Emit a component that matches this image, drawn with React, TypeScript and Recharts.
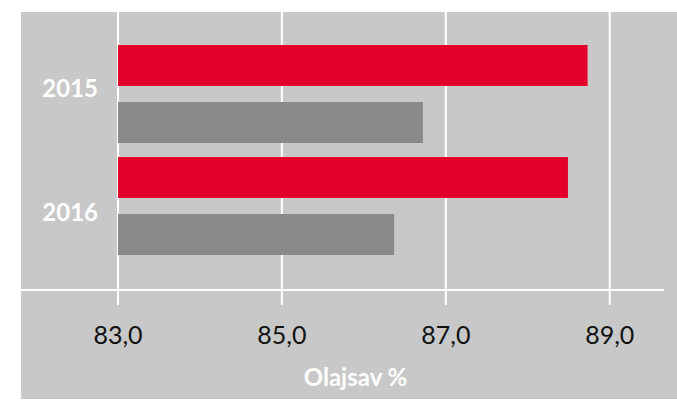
import React from 'react';
import { BarChart, Bar, XAxis, YAxis, CartesianGrid } from 'recharts';

// values
const years = ['2015', '2016'];
const redValues = [88.73, 88.49];
const greyValues = [86.72, 86.37];
const xTicks = [83, 85, 87, 89];

const data = years.map((year, i) => ({
  year,
  red: redValues[i],
  grey: greyValues[i],
}));

const FONT = 'Lato, "Open Sans", sans-serif';

// small nudge so the year labels sit where the reference has them
const labelShift = [-5, 7];

const YearTick = (props: any) => {
  const { x, y, payload, index } = props;
  return (
    <text
      x={x - 12}
      y={y + (labelShift[index] ?? 0)}
      dy="0.35em"
      textAnchor="end"
      fill="#ffffff"
      fontWeight="bold"
      fontSize={24}
      fontFamily={FONT}
    >
      {payload.value}
    </text>
  );
};

const App = () => {
  return (
    <div style={{ position: 'absolute', left: 0, top: 0, width: 677, height: 401, background: '#ffffff' }}>
      {/* grey chart area */}
      <div style={{ position: 'absolute', left: 21, top: 12, width: 656, height: 387, background: '#c8c8c8' }} />
      <div style={{ position: 'absolute', left: 0, top: 0 }}>
        <BarChart
          width={677}
          height={401}
          data={data}
          layout="vertical"
          margin={{ top: 12, right: 14, bottom: 0, left: 21 }}
          barSize={41}
          barGap={16}
        >
          <CartesianGrid horizontal={false} verticalValues={xTicks} stroke="#ffffff" strokeWidth={2} />
          <XAxis
            type="number"
            domain={[83, 89.65]}
            ticks={xTicks}
            allowDataOverflow
            height={110}
            axisLine={false}
            tickLine={{ stroke: '#ffffff', strokeWidth: 2 }}
            tickSize={14}
            tickMargin={21}
            tickFormatter={(v: number) => v.toFixed(1).replace('.', ',')}
            tick={{ fill: '#111111', fontSize: 25, fontFamily: FONT }}
            label={{
              value: 'Olajsav %',
              position: 'insideBottom',
              offset: 15,
              dx: -35,
              fill: '#ffffff',
              fontWeight: 'bold',
              fontSize: 24,
              fontFamily: FONT,
            }}
          />
          <YAxis
            type="category"
            dataKey="year"
            width={97}
            axisLine={false}
            tickLine={false}
            padding={{ top: 26, bottom: 29 }}
            tick={<YearTick />}
          />
          <Bar dataKey="red" fill="#e4002b" isAnimationActive={false} />
          <Bar dataKey="grey" fill="#898989" isAnimationActive={false} />
        </BarChart>
      </div>
      {/* white baseline running across the whole chart area */}
      <div style={{ position: 'absolute', left: 21, top: 289, width: 643, height: 2, background: '#ffffff' }} />
    </div>
  );
};

export default App;
